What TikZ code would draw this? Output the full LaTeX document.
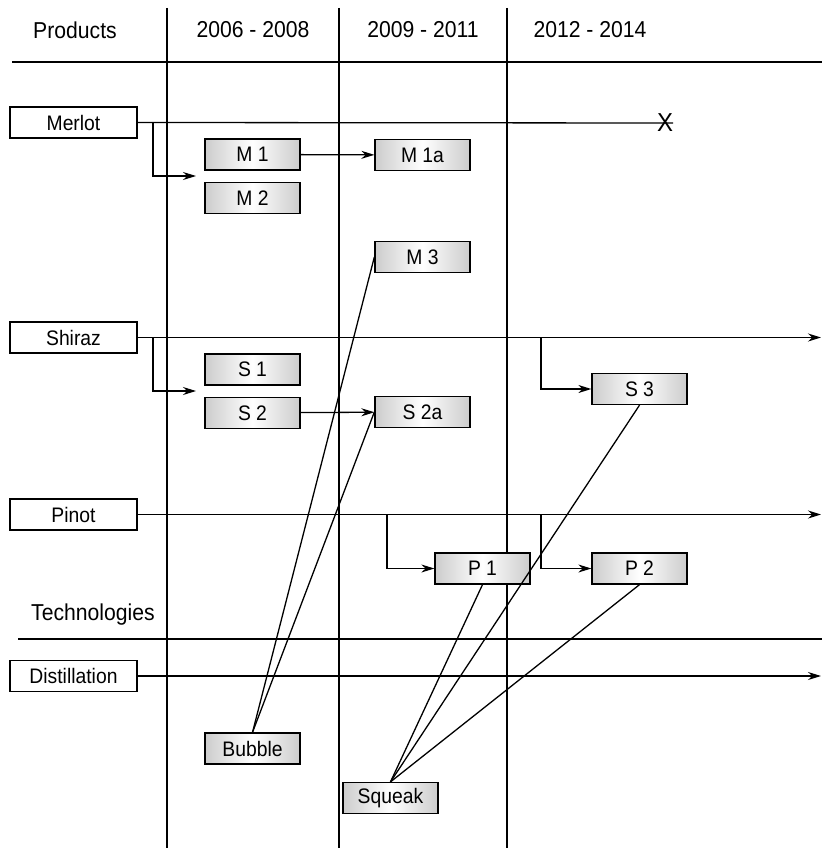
\documentclass[tikz,border=0pt]{standalone}
\usepackage{fontspec}
\setmainfont[FakeStretch=0.92]{Liberation Sans}
\usetikzlibrary{arrows.meta}
\usetikzlibrary{positioning}

\tikzset{
    lbl/.style={draw, line width=1.3pt, fill=white, minimum width=127pt, minimum height=31pt, inner sep=0pt, font=\fontsize{21}{23}\selectfont},
    prod/.style={draw, line width=1.3pt, left color=gray!40, right color=gray!40, middle color=white, minimum width=95pt, minimum height=31pt, inner sep=0pt, font=\fontsize{21}{23}\selectfont},
    hdr/.style={font=\fontsize{23}{25}\selectfont},
    arr/.style={-{Stealth[length=13pt,width=8pt]}, line width=1.3pt},
    link/.style={line width=1.3pt}
}

\begin{document}
\begin{tikzpicture}[x=1pt, y=-1pt]
            \useasboundingbox (0,0) rectangle (822,848);

            % Grid
            \draw[link] (12,62) -- (822,62);
            \draw[link] (18,639) -- (822,639);
            \foreach \xx in {167,339,507}
                \draw[link] (\xx,8) -- (\xx,848);

            % Headers
            \node[hdr] (hprod) at (75,30) {Products};
            \node[hdr] (hyr1) at (253,30) {2006 - 2008};
            \node[hdr] (hyr2) at (423,30) {2009 - 2011};
            \node[hdr] (hyr3) at (590,30) {2012 - 2014};
            \node[hdr] (htech) at (93,615) {Technologies};

            % Product lines
            \node[lbl] (merlot) at (73.5,122.5) {Merlot};
            \node[lbl] (shiraz) at (73.5,337.5) {Shiraz};
            \node[lbl] (pinot) at (73.5,514.5) {Pinot};
            \node[lbl] (distil) at (73.5,676) {Distillation};

            % Products
            \node[prod] (m1) at (252.5,154.5) {M 1};
            \node[prod, below=11pt of m1] (m2) {M 2};
            \node[prod] (m1a) at (422.5,155) {M 1a};
            \node[prod] (m3) at (422.5,257) {M 3};
            \node[prod] (s1) at (252.5,369.5) {S 1};
            \node[prod, below=11pt of s1] (s2) {S 2};
            \node[prod] (s2a) at (422.5,412) {S 2a};
            \node[prod] (s3) at (639.5,389) {S 3};
            \node[prod] (p1) at (482.5,568.5) {P 1};
            \node[prod] (p2) at (639.5,568.5) {P 2};
            \node[prod] (bubble) at (252.5,748.5) {Bubble};
            \node[prod] (squeak) at (390.5,798) {Squeak};

            % End mark
            \node[font=\fontsize{26}{28}\selectfont, inner sep=0pt] (xmark) at (665,123) {X};

            % Branch points
            \coordinate (mbr) at (153,122.5);
            \coordinate (mtip) at (196,176);
            \coordinate (sbr) at (153,337.5);
            \coordinate (stip) at (196,391);
            \coordinate (s3br) at (541,337.5);
            \coordinate (send) at (821,337.5);
            \coordinate (p1br) at (387,514.5);
            \coordinate (p2br) at (541,514.5);
            \coordinate (pend) at (821,514.5);
            \coordinate (dend) at (821,676);

            % Timelines
            \draw[link] (merlot.east) -- (xmark.east);
            \draw[arr] (mbr) |- (mtip);
            \draw[arr] (m1) -- (m1a);
            \draw[arr] (shiraz.east) -- (send);
            \draw[arr] (sbr) |- (stip);
            \draw[arr] (s2) -- (s2a);
            \draw[arr] (s3br) |- (s3);
            \draw[arr] (pinot.east) -- (pend);
            \draw[arr] (p1br) |- (p1);
            \draw[arr] (p2br) |- (p2);
            \draw[arr] (distil.east) -- (dend);

            % Technology links
            \draw[link] (bubble.north) -- (m3.west);
            \draw[link] (bubble.north) -- (s2a.west);
            \draw[link] (squeak.north) -- (p1.south);
            \draw[link] (squeak.north) -- (s3.south);
            \draw[link] (squeak.north) -- (p2.south);
        \end{tikzpicture}
\end{document}
